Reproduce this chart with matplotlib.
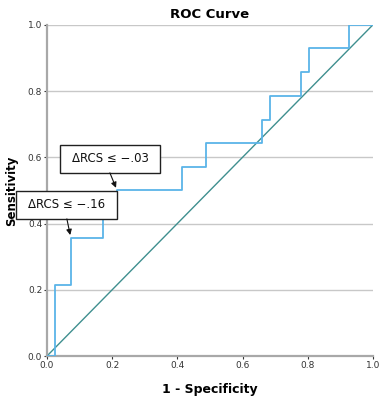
import matplotlib
matplotlib.use('Agg')
import matplotlib.pyplot as plt
from matplotlib.patches import Rectangle

# ROC corner points
fpr = [0.0, 0.024, 0.073, 0.171, 0.215, 0.415, 0.488, 0.659, 0.683, 0.780, 0.805, 0.927, 1.0]
tpr = [0.0, 0.214, 0.357, 0.429, 0.500, 0.571, 0.643, 0.714, 0.786, 0.857, 0.929, 1.0, 1.0]
ref_line = [0.0, 1.0]
ticks = [0.0, 0.2, 0.4, 0.6, 0.8, 1.0]
tick_labels = ['0.0', '0.2', '0.4', '0.6', '0.8', '1.0']
cut_labels = ['ΔRCS ≤ −.03', 'ΔRCS ≤ −.16']
cut_points = [(0.215, 0.500), (0.073, 0.357)]

fig = plt.figure(figsize=(3.79, 4.0), dpi=100)
ax = fig.add_axes([0.124, 0.11, 0.86, 0.828])

for t in ticks[1:]:
    ax.axhline(t, color='#c8c8c8', lw=1.0, zorder=0)
ax.plot(ref_line, ref_line, color='#3f8f8f', lw=1.0, zorder=2)
ax.plot(fpr, tpr, drawstyle='steps-post', color='#5ab4e8', lw=1.3, zorder=3)

ax.set_xlim(0, 1)
ax.set_ylim(0, 1)
ax.set_xticks(ticks)
ax.set_xticklabels(tick_labels)
ax.set_yticks(ticks)
ax.set_yticklabels(tick_labels)
ax.tick_params(labelsize=6.5, colors='#333333', length=2, width=0.8, pad=1.5)
for s in ['top', 'right']:
    ax.spines[s].set_visible(False)
for s in ['left', 'bottom']:
    ax.spines[s].set_color('#a8a8a8')
    ax.spines[s].set_linewidth(1.6)

ax.set_title('ROC Curve', fontsize=9.5, fontweight='bold', pad=5)
ax.set_xlabel('1 - Specificity', fontsize=9, fontweight='bold')
ax.xaxis.set_label_coords(0.5, -0.082)
ax.set_ylabel('Sensitivity', fontsize=8.5, fontweight='bold')
ax.yaxis.set_label_coords(-0.089, 0.5)

# label boxes (axes fraction) and arrows
boxes = [(0.040, 0.554, 0.307, 0.083), (-0.096, 0.415, 0.310, 0.083)]
starts = [(0.193, 0.553), (0.061, 0.414)]
for lab, (x0, y0, w, h), st, pt in zip(cut_labels, boxes, starts, cut_points):
    ax.add_patch(Rectangle((x0, y0), w, h, transform=ax.transAxes, facecolor='white',
                           edgecolor='#202020', lw=1.0, clip_on=False, zorder=5))
    ax.text(x0 + w / 2, y0 + h / 2, lab, transform=ax.transAxes, ha='center', va='center',
            fontsize=8.5, color='#111111', zorder=6)
    ax.annotate('', xy=pt, xytext=st, xycoords='data', textcoords='axes fraction',
                arrowprops=dict(arrowstyle='-|>', color='#111111', lw=0.8,
                                mutation_scale=8, shrinkA=0, shrinkB=2), zorder=6)

fig.savefig('out.png', dpi=100)
